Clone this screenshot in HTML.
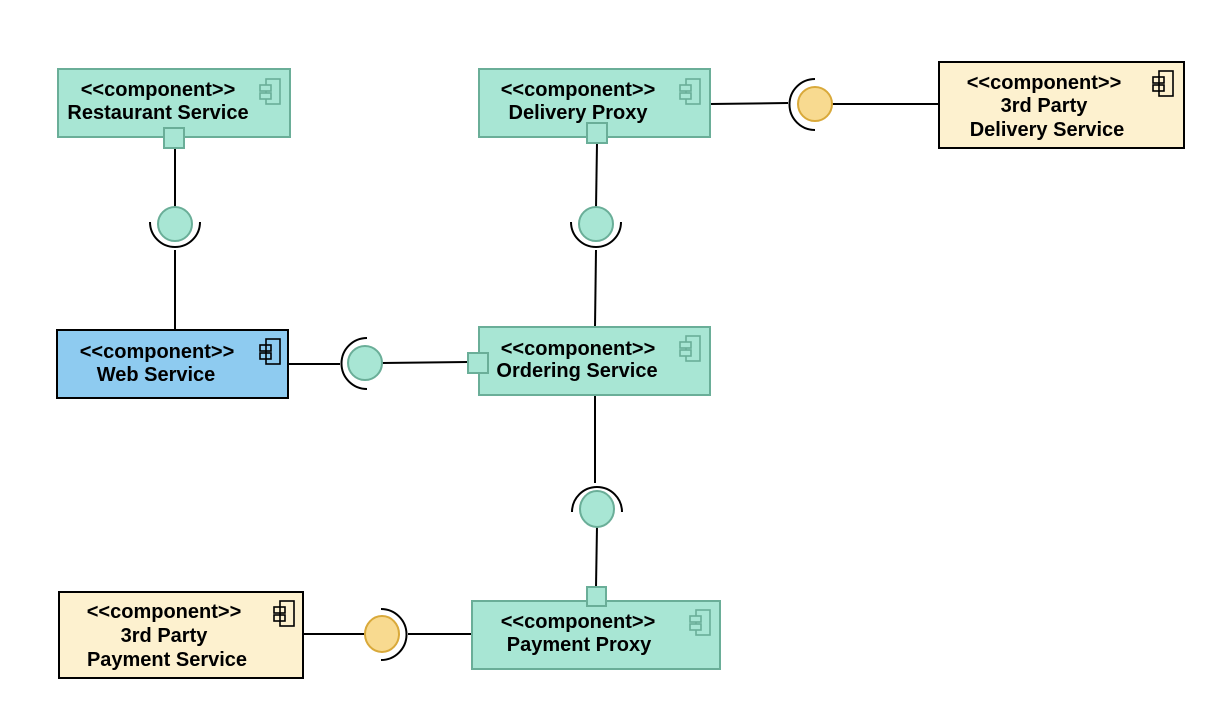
<!DOCTYPE html>
<html><head><meta charset="utf-8"><style>
html,body{margin:0;padding:0;background:#fff;}
svg{display:block;}
text{font-family:"Liberation Sans",Arial,sans-serif;font-weight:bold;font-size:20px;fill:#000;text-anchor:middle;}
</style></head><body>
<svg width="1214" height="710" viewBox="0 0 1214 710" xmlns="http://www.w3.org/2000/svg">
<defs>
<g id="icg"><rect x="6" y="0" width="14" height="25" fill="none" stroke="#6aae98" stroke-width="1.6"/><rect x="0" y="6" width="11" height="6" fill="#a8e6d4" stroke="#6aae98" stroke-width="1.6"/><rect x="0" y="14" width="11" height="6" fill="#a8e6d4" stroke="#6aae98" stroke-width="1.6"/></g>
<g id="icb"><rect x="6" y="0" width="14" height="25" fill="none" stroke="#000" stroke-width="1.6"/><rect x="0" y="6" width="11" height="6" fill="none" stroke="#000" stroke-width="1.6"/><rect x="0" y="14" width="11" height="6" fill="none" stroke="#000" stroke-width="1.6"/></g>
</defs>
<g stroke="#000" stroke-width="2" fill="none">
<line x1="175" y1="148" x2="175" y2="208"/><line x1="175" y1="250" x2="175" y2="330"/>
<line x1="597" y1="143" x2="596" y2="208"/><line x1="596" y1="250" x2="595" y2="327"/>
<line x1="288" y1="364" x2="340" y2="364"/><line x1="382" y1="363" x2="468" y2="362"/>
<line x1="595" y1="395" x2="595" y2="483"/><line x1="597" y1="526" x2="596" y2="587"/>
<line x1="710" y1="104" x2="788" y2="103"/><line x1="832" y1="104" x2="939" y2="104"/>
<line x1="303" y1="634" x2="365" y2="634"/><line x1="408" y1="634" x2="472" y2="634"/>
<path d="M150,222 A25,25 0 0 0 200,222"/>
<path d="M571,222 A25,25 0 0 0 621,222"/>
<path d="M367,338 A25,25 0 0 0 367,389"/>
<path d="M572,512 A25,25 0 0 1 622,512"/>
<path d="M815,79 A25,25 0 0 0 815,130"/>
<path d="M381,609 A25,25 0 0 1 381,660"/>
</g>
<g fill="#a8e6d4" stroke="#6aae98" stroke-width="2">
<circle cx="175" cy="224" r="17"/>
<circle cx="596" cy="224" r="17"/>
<circle cx="365" cy="363" r="17"/>
<ellipse cx="597" cy="509" rx="17" ry="18"/>
</g>
<g fill="#f8da90" stroke="#d9a93a" stroke-width="2">
<circle cx="815" cy="104" r="17"/>
<ellipse cx="382" cy="634" rx="17" ry="18"/>
</g>
<g fill="#a8e6d4" stroke="#6aae98" stroke-width="2">
<rect x="58" y="69" width="232" height="68"/>
<rect x="479" y="69" width="231" height="68"/>
<rect x="479" y="327" width="231" height="68"/>
<rect x="472" y="601" width="248" height="68"/>
<rect x="164" y="128" width="20" height="20"/>
<rect x="587" y="123" width="20" height="20"/>
<rect x="468" y="353" width="20" height="20"/>
<rect x="587" y="587" width="19" height="19"/>
</g>
<rect x="57" y="330" width="231" height="68" fill="#8ecbf0" stroke="#000" stroke-width="2"/>
<rect x="939" y="62" width="245" height="86" fill="#fdf1cf" stroke="#000" stroke-width="2"/>
<rect x="59" y="592" width="244" height="86" fill="#fdf1cf" stroke="#000" stroke-width="2"/>
<use href="#icg" x="260" y="79"/>
<use href="#icg" x="680" y="79"/>
<use href="#icg" x="680" y="336"/>
<use href="#icg" x="690" y="610"/>
<use href="#icb" x="260" y="339"/>
<use href="#icb" x="1153" y="71"/>
<use href="#icb" x="274" y="601"/>
<text x="158" y="96">&lt;&lt;component&gt;&gt;</text>
<text x="158" y="119">Restaurant Service</text>
<text x="578" y="96">&lt;&lt;component&gt;&gt;</text>
<text x="578" y="119">Delivery Proxy</text>
<text x="1044" y="89">&lt;&lt;component&gt;&gt;</text>
<text x="1044" y="112">3rd Party</text>
<text x="1047" y="136">Delivery Service</text>
<text x="157" y="358">&lt;&lt;component&gt;&gt;</text>
<text x="156" y="381">Web Service</text>
<text x="578" y="355">&lt;&lt;component&gt;&gt;</text>
<text x="577" y="377">Ordering Service</text>
<text x="164" y="618">&lt;&lt;component&gt;&gt;</text>
<text x="164" y="642">3rd Party</text>
<text x="167" y="666">Payment Service</text>
<text x="578" y="628">&lt;&lt;component&gt;&gt;</text>
<text x="579" y="651">Payment Proxy</text>
</svg>
</body></html>
